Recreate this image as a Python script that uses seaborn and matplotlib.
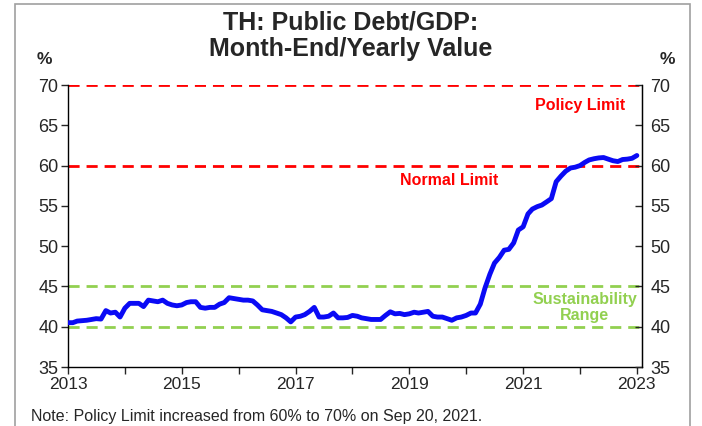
import pandas as pd
import matplotlib.pyplot as plt
import matplotlib.patches as mpatches
import seaborn as sns

# Monthly public debt / GDP (%), Jan 2013 - Jan 2023
debt_2013 = [40.5, 40.5, 40.7, 40.75, 40.8, 40.9, 41.0, 40.95, 42.0, 41.7, 41.8, 41.2]
debt_2014 = [42.3, 42.9, 42.9, 42.9, 42.5, 43.3, 43.2, 43.1, 43.3, 42.9, 42.7, 42.6]
debt_2015 = [42.7, 43.0, 43.1, 43.1, 42.4, 42.3, 42.4, 42.4, 42.8, 43.0, 43.6, 43.5]
debt_2016 = [43.4, 43.3, 43.3, 43.2, 42.7, 42.1, 42.0, 41.9, 41.7, 41.5, 41.1, 40.6]
debt_2017 = [41.2, 41.3, 41.5, 41.9, 42.4, 41.2, 41.2, 41.3, 41.7, 41.1, 41.1, 41.15]
debt_2018 = [41.4, 41.3, 41.1, 41.0, 40.9, 40.9, 40.9, 41.4, 41.85, 41.6, 41.65, 41.5]
debt_2019 = [41.6, 41.8, 41.7, 41.8, 41.9, 41.3, 41.2, 41.2, 41.0, 40.8, 41.1, 41.2]
debt_2020 = [41.4, 41.7, 41.7, 42.8, 44.8, 46.5, 47.9, 48.6, 49.5, 49.6, 50.4, 52.0]
debt_2021 = [52.4, 54.0, 54.6, 54.9, 55.1, 55.5, 55.9, 58.0, 58.7, 59.3, 59.7, 59.8]
debt_2022 = [60.0, 60.4, 60.7, 60.85, 60.95, 61.0, 60.8, 60.6, 60.5, 60.75, 60.8, 60.9]
debt_2023 = [61.25]

values = (debt_2013 + debt_2014 + debt_2015 + debt_2016 + debt_2017 + debt_2018
          + debt_2019 + debt_2020 + debt_2021 + debt_2022 + debt_2023)
dates = pd.date_range("2013-01-01", periods=len(values), freq="MS")
df = pd.DataFrame({"date": dates, "debt": values})

year_ticks = list(range(2013, 2024))
year_labels = [str(y) if y % 2 == 1 else "" for y in year_ticks]
y_ticks = [35, 40, 45, 50, 55, 60, 65, 70]

policy_limit = 70
normal_limit = 60
sustain_low, sustain_high = 40, 45

sns.set_style("white")
plt.rcParams["font.family"] = ["Liberation Sans", "DejaVu Sans"]

fig = plt.figure(figsize=(7.02, 4.26), dpi=100)
ax = fig.add_axes([68 / 702, 1 - 367 / 426, (642 - 68) / 702, (367 - 85) / 426])

# reference lines
ax.axhline(policy_limit, color="#ff0000", lw=2, ls=(0, (4, 2.5)), zorder=1)
ax.axhline(normal_limit, color="#ff0000", lw=2, ls=(0, (4, 2.5)), zorder=1)
ax.axhline(sustain_high, color="#92d050", lw=2, ls=(0, (4, 2.5)), zorder=1)
ax.axhline(sustain_low, color="#92d050", lw=2, ls=(0, (4, 2.5)), zorder=1)

sns.lineplot(data=df, x="date", y="debt", ax=ax, color="#0a0af5", lw=3.5, zorder=3)

ax.set_ylim(35, 70)
ax.set_xlim(pd.Timestamp("2013-01-01"), pd.Timestamp("2023-02-03"))
ax.set_yticks(y_ticks)
ax.set_xticks([pd.Timestamp(f"{y}-01-01") for y in year_ticks])
ax.set_xticklabels(year_labels)
ax.set_xlabel("")
ax.set_ylabel("")

for s in ["left", "bottom", "right"]:
    ax.spines[s].set_visible(True)
    ax.spines[s].set_color("black")
    ax.spines[s].set_linewidth(1)
ax.spines["top"].set_visible(False)
ax.tick_params(axis="y", direction="out", length=5, width=1, labelsize=13, left=True, pad=2)
ax.tick_params(axis="x", direction="out", length=5, width=1, labelsize=12.5, bottom=True, pad=2)

ax2 = ax.twinx()
ax2.set_ylim(35, 70)
ax2.set_yticks(y_ticks)
ax2.tick_params(axis="y", direction="in", length=5, width=1, labelsize=13, right=True, pad=6)
for s in ["left", "bottom", "top"]:
    ax2.spines[s].set_visible(False)
ax2.spines["right"].set_color("black")

# annotations
ax.text(pd.Timestamp("2022-01-01"), 67.5, "Policy Limit", color="#ff0000",
        fontsize=11.5, fontweight="bold", ha="center", va="center")
ax.text(pd.Timestamp("2019-09-15"), 58.1, "Normal Limit", color="#ff0000",
        fontsize=11.5, fontweight="bold", ha="center", va="center")
ax.text(pd.Timestamp("2022-01-30"), 42.36, "Sustainability\nRange", color="#92d050",
        fontsize=11.5, fontweight="bold", ha="center", va="center", linespacing=1.1)

fig.text(0.5, 1 - 36 / 426, "TH: Public Debt/GDP:\nMonth-End/Yearly Value",
         ha="center", va="center", fontsize=18, fontweight="bold", linespacing=1.15)
fig.text(44 / 702, 1 - 60 / 426, "%", ha="center", va="center", fontsize=12.5, fontweight="bold")
fig.text(667 / 702, 1 - 60 / 426, "%", ha="center", va="center", fontsize=12.5, fontweight="bold")
fig.text(31 / 702, 1 - 416 / 426, "Note: Policy Limit increased from 60% to 70% on Sep 20, 2021.",
         ha="left", va="center", fontsize=11.5)

# outer frame
fig.patches.append(mpatches.Rectangle((15 / 702, -0.05), (690 - 15) / 702, 1.05 - 4 / 426,
                                      transform=fig.transFigure, fill=False,
                                      edgecolor="#a0a0a0", lw=1.2))

fig.savefig("out.png", dpi=100)
